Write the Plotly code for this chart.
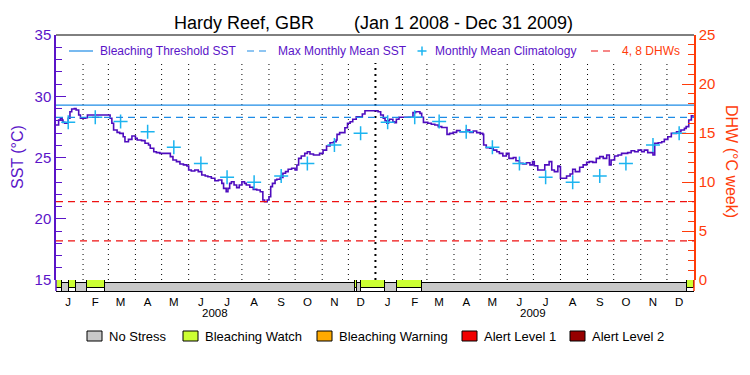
import pandas as pd
import plotly.graph_objects as go

# ---------------- data ----------------
START = pd.Timestamp("2008-01-01")

sst_day = [0,3,5,7,8,10,12,14,16,18,21,23,26,28,31,34,36,50,60,62,64,66,70,73,77,79,83,87,91,93,98,102,106,108,112,115,119,125,129,131,134,138,142,146,150,152,155,159,163,167,171,174,178,182,186,190,192,195,197,199,201,204,207,210,213,216,218,222,226,230,234,237,239,242,244,246,248,251,253,257,260,263,266,270,274,276,278,281,285,288,291,295,299,302,306,310,314,318,321,322,325,329,331,334,337,340,344,348,351,354,358,367,369,372,375,377,379,381,382,386,388,390,393,407,409,412,417,419,421,426,430,434,438,442,445,448,451,455,459,463,466,470,474,478,482,486,489,490,493,497,501,505,508,512,516,519,524,527,531,535,539,543,546,548,552,556,560,565,568,571,575,577,578,581,585,589,592,595,600,604,608,611,615,619,623,627,631,634,636,640,644,648,652,655,659,663,667,671,674,678,684,686,690,694,697,701,705,711,716,720,722,725,728,730]

sst_val = [27.65,28.06,28.2,28.06,27.87,27.8,27.8,28.2,28.74,28.96,29.0,28.88,28.47,28.2,28.2,28.25,28.47,28.47,28.47,28.2,27.79,27.24,27.05,26.97,26.7,26.29,26.48,26.76,26.56,26.43,26.38,26.16,26.02,25.75,25.47,25.4,25.34,25.34,25.34,25.07,24.8,24.66,24.47,24.4,24.3,23.98,23.9,23.98,23.85,23.57,23.49,23.43,23.3,23.1,23.16,22.89,22.48,22.21,22.48,22.89,23.02,22.76,22.54,22.76,23.02,22.89,22.76,22.57,22.4,22.35,22.2,21.53,21.39,21.53,21.8,22.62,22.89,23.16,23.22,23.38,23.71,23.85,24.04,24.12,23.98,24.39,24.93,25.12,25.34,25.47,25.28,25.2,25.2,25.34,25.6,25.94,26.21,26.29,26.43,26.89,27.03,27.03,27.43,27.79,27.92,28.12,28.33,28.3,28.55,28.82,28.82,28.82,28.74,28.47,28.2,28.0,27.8,28.0,28.12,27.92,27.84,28.12,28.28,28.28,28.66,28.74,28.6,28.28,27.87,27.8,27.72,27.65,27.52,27.45,27.45,26.89,26.97,27.05,27.19,27.1,27.1,27.24,27.05,27.16,27.03,26.97,26.89,26.02,25.8,25.75,25.6,25.47,25.34,25.12,25.34,24.93,25.0,24.74,24.52,24.47,24.57,24.4,24.66,24.33,23.98,23.98,24.4,24.66,23.98,23.85,24.3,24.25,23.3,23.3,23.49,23.65,24.04,23.85,24.2,24.4,24.6,24.66,24.6,24.93,25.07,24.93,25.2,24.4,24.8,25.12,25.2,25.34,25.34,25.4,25.55,25.47,25.6,25.47,25.6,25.4,25.2,26.16,26.21,26.29,26.48,26.7,26.97,27.1,27.24,27.38,27.52,28.06,28.4,28.45]

clim_month_vals = [27.87, 28.28, 27.93, 27.10, 25.83, 24.52, 23.38, 22.97, 23.49, 24.52, 26.02, 26.97]
clim_years = [2008, 2009]

mmm_sst = 28.28
threshold_sst = 29.28
dhw_levels = [4, 8]

stress_start_day = [0, 7, 15, 23, 35, 56, 343, 345, 350, 377, 391, 419, 723]
stress_end_day = [7, 15, 23, 35, 56, 343, 345, 350, 377, 391, 419, 723, 731]
stress_level = ["Bleaching Watch", "No Stress", "Bleaching Watch", "No Stress", "Bleaching Watch",
                "No Stress", "Bleaching Watch", "No Stress", "Bleaching Watch", "No Stress",
                "Bleaching Watch", "No Stress", "Bleaching Watch"]

stress_names = ["No Stress", "Bleaching Watch", "Bleaching Warning", "Alert Level 1", "Alert Level 2"]
stress_colors = ["#c8c8c8", "#ccff33", "#ffaa00", "#f00000", "#960000"]

month_letters = ["J", "F", "M", "A", "M", "J", "J", "A", "S", "O", "N", "D"]
year_labels = ["2008", "2009"]

# ---------------- styling ----------------
PURPLE = "#5a14c8"
LINE_PURPLE = "#4e0cbe"
BLUE = "#1e8ce6"
CYAN = "#1cb4f0"
RED = "#ee1111"
ORANGE = "#ff3c0a"
FONT = "Liberation Sans, Arial, sans-serif"

W, H = 750, 375
L, R, T, B = 56, 694, 35, 291
PW, PH = R - L, B - T
STRIP = 11  # px height of stress strip


def px_x(px):
    return (px - L) / PW


def px_y(py):
    return (B - py) / PH


strip_dom = STRIP / PH

sst_dates = [START + pd.Timedelta(days=d) for d in sst_day]
clim_dates = [pd.Timestamp(year=y, month=m + 1, day=15) for y in clim_years for m in range(12)]
clim_vals = clim_month_vals * len(clim_years)

fig = go.Figure()

# stress strip
for name, col in zip(stress_names, stress_colors):
    idx = [i for i, lv in enumerate(stress_level) if lv == name]
    if not idx:
        continue
    fig.add_trace(go.Bar(
        orientation="h",
        base=[(START + pd.Timedelta(days=stress_start_day[i])).strftime("%Y-%m-%d") for i in idx],
        x=[(stress_end_day[i] - stress_start_day[i]) * 86400000 for i in idx],
        y=[0] * len(idx),
        width=1,
        marker=dict(color=col, line=dict(color="black", width=1)),
        yaxis="y3", xaxis="x", showlegend=False, name=name, hoverinfo="skip",
    ))

# SST daily line
fig.add_trace(go.Scatter(x=sst_dates, y=sst_val, mode="lines", line=dict(color=LINE_PURPLE, width=1.6, shape="hv"),
                         showlegend=False, name="SST"))

# climatology crosses
fig.add_trace(go.Scatter(x=clim_dates, y=clim_vals, mode="markers",
                         marker=dict(symbol="cross-thin", size=10, line=dict(color=CYAN, width=1.5)),
                         showlegend=False, name="Monthly Mean Climatology"))

# dummy trace for DHW axis
fig.add_trace(go.Scatter(x=[START], y=[None], yaxis="y2", showlegend=False, hoverinfo="skip"))

shapes = []
# threshold lines
shapes.append(dict(type="line", xref="paper", yref="y", x0=0, x1=1, y0=threshold_sst, y1=threshold_sst,
                   line=dict(color=BLUE, width=1.2)))
shapes.append(dict(type="line", xref="paper", yref="y", x0=0, x1=1, y0=mmm_sst, y1=mmm_sst,
                   line=dict(color=BLUE, width=1.2, dash="7px,5px")))
for lv in dhw_levels:
    shapes.append(dict(type="line", xref="paper", yref="y2", x0=0, x1=1, y0=lv, y1=lv,
                       line=dict(color=RED, width=1.2, dash="7px,5px")))

# month grid dotted lines
for d in pd.date_range("2008-02-01", "2009-12-01", freq="MS"):
    is_year = d.month == 1
    shapes.append(dict(type="line", xref="x", yref="paper", x0=d, x1=d, y0=strip_dom, y1=px_y(63),
                       line=dict(color="black", width=2 if is_year else 1,
                                 dash="2px,4px" if is_year else "1px,4px"), layer="below"))

# frame pieces
shapes.append(dict(type="line", xref="paper", yref="paper", x0=0, x1=1, y0=1, y1=1,
                   line=dict(color="black", width=1)))
shapes.append(dict(type="line", xref="paper", yref="paper", x0=0, x1=0, y0=0, y1=strip_dom,
                   line=dict(color=PURPLE, width=1.5)))
shapes.append(dict(type="line", xref="paper", yref="paper", x0=1, x1=1, y0=0, y1=strip_dom,
                   line=dict(color=ORANGE, width=1.5)))

annotations = []
# top legend
ly = px_y(51)
shapes.append(dict(type="line", xref="paper", yref="paper", x0=px_x(69), x1=px_x(93), y0=ly, y1=ly,
                   line=dict(color=BLUE, width=1.2)))
shapes.append(dict(type="line", xref="paper", yref="paper", x0=px_x(247), x1=px_x(271), y0=ly, y1=ly,
                   line=dict(color=BLUE, width=1.2, dash="7px,5px")))
shapes.append(dict(type="line", xref="paper", yref="paper", x0=px_x(417.5), x1=px_x(426.5), y0=ly, y1=ly,
                   line=dict(color=CYAN, width=1.5)))
shapes.append(dict(type="line", xref="paper", yref="paper", x0=px_x(422), x1=px_x(422), y0=px_y(46.5), y1=px_y(55.5),
                   line=dict(color=CYAN, width=1.5)))
shapes.append(dict(type="line", xref="paper", yref="paper", x0=px_x(591), x1=px_x(615), y0=ly, y1=ly,
                   line=dict(color=RED, width=1.2, dash="7px,5px")))
for txt, x, col in [("Bleaching Threshold SST", 98, PURPLE), ("Max Monthly Mean SST", 276, PURPLE),
                    ("Monthly Mean Climatology", 433, PURPLE), ("4, 8 DHWs", 620, ORANGE)]:
    annotations.append(dict(text=txt, xref="paper", yref="paper", x=px_x(x), y=ly, xanchor="left",
                            yanchor="middle", showarrow=False, font=dict(size=12, color=col)))

# bottom legend
box_x = [87, 183, 317, 462, 570]
for name, col, bx in zip(stress_names, stress_colors, box_x):
    shapes.append(dict(type="rect", xref="paper", yref="paper", x0=px_x(bx), x1=px_x(bx + 15),
                       y0=px_y(331), y1=px_y(341), fillcolor=col, line=dict(color="black", width=1)))
    annotations.append(dict(text=name, xref="paper", yref="paper", x=px_x(bx + 20), y=px_y(336),
                            xanchor="left", yanchor="middle", showarrow=False,
                            font=dict(size=13, color="black")))

# year labels
for yl in year_labels:
    annotations.append(dict(text=yl, xref="x", yref="paper", x=f"{yl}-07-01", y=px_y(313),
                            xanchor="center", yanchor="middle", showarrow=False,
                            font=dict(size=11.5, color="black")))

# axis titles
annotations.append(dict(text="SST (°C)", xref="paper", yref="paper", x=px_x(17), y=px_y(157),
                        textangle=-90, showarrow=False, xanchor="center", yanchor="middle",
                        font=dict(size=16, color=PURPLE)))
annotations.append(dict(text="DHW (°C week)", xref="paper", yref="paper", x=px_x(732), y=px_y(161),
                        textangle=90, showarrow=False, xanchor="center", yanchor="middle",
                        font=dict(size=16, color=ORANGE)))

mid_months = [pd.Timestamp(year=int(y), month=m + 1, day=15) for y in year_labels for m in range(12)]

fig.update_layout(
    width=W, height=H,
    margin=dict(l=L, r=W - R, t=T, b=H - B, pad=0, autoexpand=False),
    paper_bgcolor="white", plot_bgcolor="white",
    font=dict(family=FONT, color="black"),
    title=dict(text="Hardy Reef, GBR\u00a0\u00a0\u00a0\u00a0\u00a0\u00a0\u00a0\u00a0(Jan 1 2008 - Dec 31 2009)",
               x=373.5 / W, xanchor="center", y=1 - 23 / H, yanchor="middle", yref="container",
               font=dict(size=18, color="black")),
    showlegend=False,
    bargap=0,
    xaxis=dict(type="date", range=["2008-01-01", "2010-01-01"], anchor="y3",
               showline=True, linecolor="black", linewidth=1, mirror=False,
               tickmode="array", tickvals=mid_months, ticktext=month_letters * len(year_labels),
               ticks="", showgrid=False, zeroline=False, tickfont=dict(size=11.5, color="black")),
    yaxis=dict(domain=[strip_dom, 1], range=[15, 35], anchor="x", side="left",
               showline=True, linecolor=PURPLE, linewidth=1.5,
               ticks="inside", ticklen=10, tickwidth=1, tickcolor=PURPLE,
               tickmode="array", tickvals=[15, 20, 25, 30, 35],
               tickfont=dict(size=15, color=PURPLE), showgrid=False, zeroline=False,
               minor=dict(ticks="inside", ticklen=6, tickwidth=1, tickcolor=PURPLE, dtick=1, tick0=15,
                          showgrid=False)),
    yaxis2=dict(overlaying="y", side="right", range=[0, 25], anchor="x",
                showline=True, linecolor=ORANGE, linewidth=1.5,
                ticks="inside", ticklen=12, tickwidth=1, tickcolor=ORANGE,
                tickmode="array", tickvals=[0, 5, 10, 15, 20, 25],
                tickfont=dict(size=15, color=ORANGE), showgrid=False, zeroline=False,
                minor=dict(ticks="inside", ticklen=6, tickwidth=1, tickcolor=ORANGE, dtick=1, tick0=0,
                           showgrid=False)),
    yaxis3=dict(domain=[0, strip_dom], range=[-0.5, 0.5], anchor="x", visible=False, fixedrange=True),
    shapes=shapes,
    annotations=annotations,
)

fig.write_html("out.html", config={"displayModeBar": False},
               post_script="document.body.style.margin='0px';document.body.style.padding='0px';")
